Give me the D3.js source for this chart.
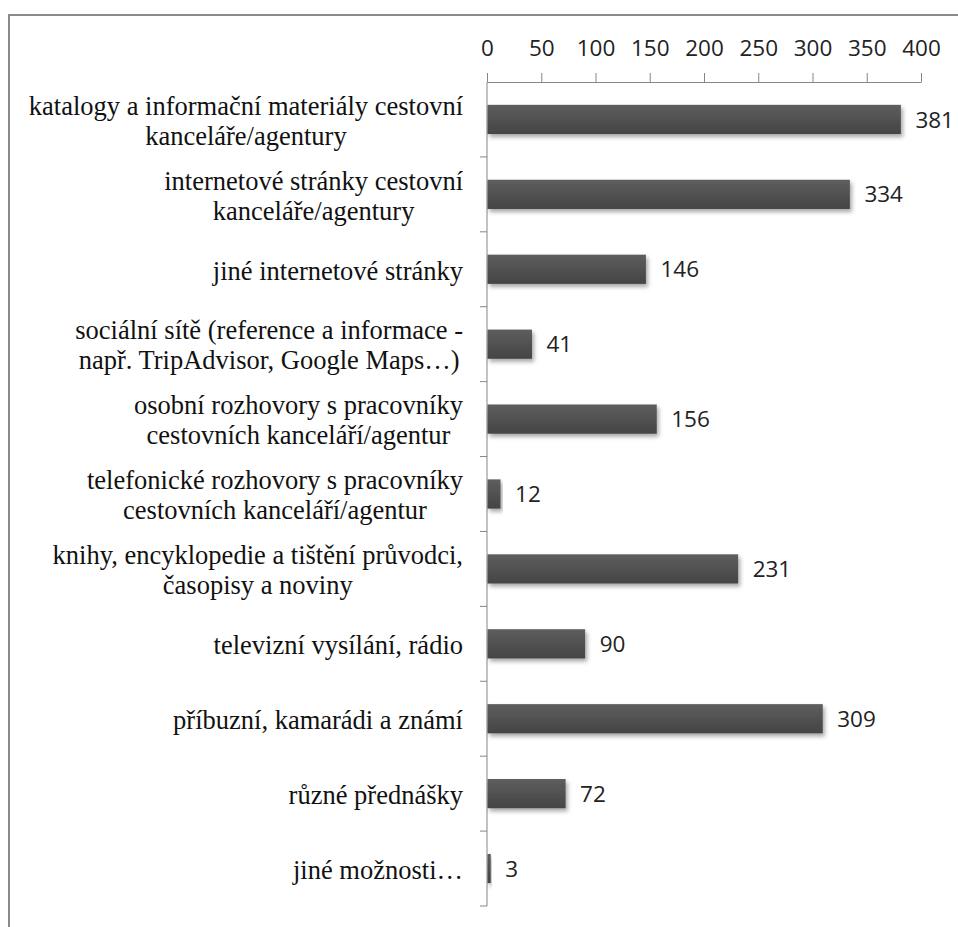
<!DOCTYPE html>
<html>
<head>
<meta charset="utf-8">
<script src="https://cdn.jsdelivr.net/npm/d3@7"></script>
<style>
  body { margin: 0; background: #fff; }
  .cat { font-family: "Liberation Serif", "Times New Roman", serif; font-size: 26.5px; fill: #111; }
  .num { font-family: "Open Sans", "DejaVu Sans", sans-serif; font-size: 22.5px; fill: #222; }
</style>
</head>
<body>
<div id="chart"></div>
<script>
// categories (each label split into its lines) and counts
var labels = [
  ["katalogy a informační materiály cestovní", "kanceláře/agentury"],
  ["internetové stránky cestovní", "kanceláře/agentury"],
  ["jiné internetové stránky"],
  ["sociální sítě (reference a informace -", "např. TripAdvisor, Google Maps…)"],
  ["osobní rozhovory s pracovníky", "cestovních kanceláří/agentur"],
  ["telefonické rozhovory s pracovníky", "cestovních kanceláří/agentur"],
  ["knihy, encyklopedie a tištění průvodci,", "časopisy a noviny"],
  ["televizní vysílání, rádio"],
  ["příbuzní, kamarádi a známí"],
  ["různé přednášky"],
  ["jiné možnosti…"]
];
var values = [381, 334, 146, 41, 156, 12, 231, 90, 309, 72, 3];
var xTicks = [0, 50, 100, 150, 200, 250, 300, 350, 400];

var W = 958, H = 927;
var svg = d3.select("#chart").append("svg")
    .attr("width", W)
    .attr("height", H);

// gradient + shadow for the bars
var defs = svg.append("defs");
var grad = defs.append("linearGradient")
    .attr("id", "barGrad")
    .attr("x1", 0).attr("y1", 0).attr("x2", 0).attr("y2", 1);
grad.append("stop").attr("offset", "0%").attr("stop-color", "#5e5e5e");
grad.append("stop").attr("offset", "100%").attr("stop-color", "#444");
var shadow = defs.append("filter")
    .attr("id", "shadow")
    .attr("x", "-5%").attr("y", "-20%")
    .attr("width", "120%").attr("height", "160%");
shadow.append("feDropShadow")
    .attr("dx", 2).attr("dy", 3)
    .attr("stdDeviation", 2)
    .attr("flood-color", "#000")
    .attr("flood-opacity", 0.35);

// outer frame (runs off the right and bottom edges)
svg.append("rect")
    .attr("x", 9).attr("y", 15)
    .attr("width", W + 20).attr("height", H + 20)
    .attr("fill", "none")
    .attr("stroke", "#8a8a8a")
    .attr("stroke-width", 2);

var x = d3.scaleLinear()
    .domain([0, 400])
    .range([487, 921]);

var y = d3.scaleBand()
    .domain(d3.range(values.length))
    .range([82, 906])
    .paddingInner(0.61)
    .paddingOuter(0.305);

// category boundaries for the left tick marks
var step = y.step();
var bounds = d3.range(values.length + 1).map(function(i) { return 82 + i * step; });

// top axis
var xAxis = svg.append("g")
    .attr("transform", "translate(0,82)")
    .call(d3.axisTop(x).tickValues(xTicks).tickSize(9).tickPadding(17).tickSizeOuter(0));
xAxis.select(".domain").attr("stroke", "#868686");
xAxis.selectAll(".tick line").attr("stroke", "#868686");
xAxis.selectAll(".tick text")
    .attr("class", "num")
    .attr("fill", "#222");

// vertical axis line + ticks
svg.append("line")
    .attr("x1", x(0)).attr("x2", x(0))
    .attr("y1", 82).attr("y2", bounds[bounds.length - 1])
    .attr("stroke", "#868686");
svg.selectAll(".ytick")
    .data(bounds.slice(1))
    .enter().append("line")
    .attr("class", "ytick")
    .attr("x1", x(0) - 7).attr("x2", x(0))
    .attr("y1", function(d) { return d; })
    .attr("y2", function(d) { return d; })
    .attr("stroke", "#868686");

// bars
svg.selectAll(".bar")
    .data(values)
    .enter().append("rect")
    .attr("class", "bar")
    .attr("x", x(0) + 0.5)
    .attr("y", function(d, i) { return y(i); })
    .attr("width", function(d) { return x(d) - x(0); })
    .attr("height", y.bandwidth())
    .attr("fill", "url(#barGrad)")
    .attr("filter", "url(#shadow)");

// value labels
svg.selectAll(".val")
    .data(values)
    .enter().append("text")
    .attr("class", "num")
    .attr("x", function(d) { return x(d) + 15; })
    .attr("y", function(d, i) { return y(i) + y.bandwidth() / 2; })
    .attr("dy", "0.36em")
    .text(function(d) { return d; });

// category labels
var lineH = 30;
svg.selectAll(".cat")
    .data(labels)
    .enter().append("text")
    .attr("class", "cat")
    .attr("text-anchor", "middle")
    .each(function(d, i) {
        var cy = y(i) + y.bandwidth() / 2 + 1;
        var t = d3.select(this);
        d.forEach(function(line, j) {
            t.append("tspan")
                .attr("x", 0)
                .attr("y", cy + (j - (d.length - 1) / 2) * lineH)
                .attr("dy", "0.35em")
                .text(line);
        });
    });

// centre each block under its widest line, right edge at 463
svg.selectAll(".cat").each(function() {
    var t = d3.select(this);
    var wMax = 0;
    t.selectAll("tspan").each(function() {
        wMax = Math.max(wMax, this.getComputedTextLength());
    });
    t.selectAll("tspan").attr("x", 463 - wMax / 2);
});
</script>
</body>
</html>
